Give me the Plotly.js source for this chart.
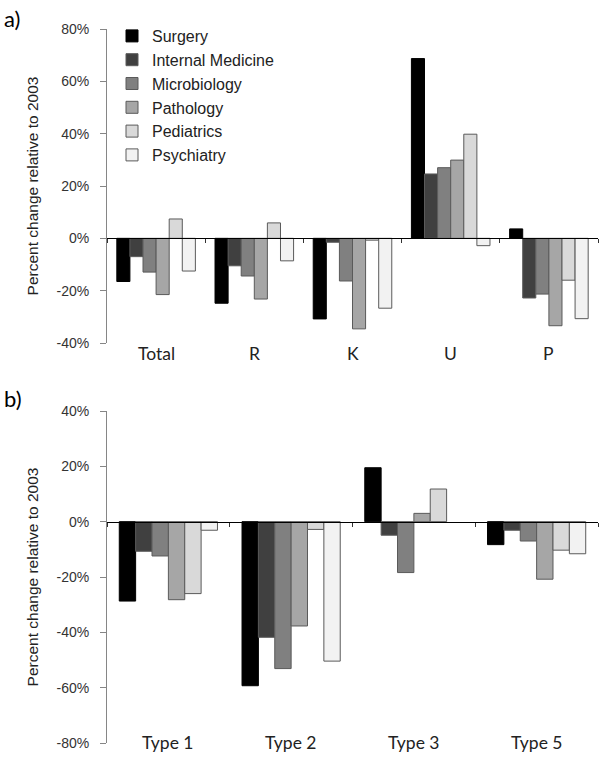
<!DOCTYPE html>
<html><head><meta charset="utf-8">
<script src="https://cdn.plot.ly/plotly-3.0.1.min.js"></script>
<style>body{margin:0;padding:0;background:#fff}#chart{width:604px;height:758px}</style>
</head><body><div id="chart"></div>
<script>
// ---- data (percent change relative to 2003) ----
const seriesNames = ['Surgery','Internal Medicine','Microbiology','Pathology','Pediatrics','Psychiatry'];
const seriesColors = ['#000000','#404040','#808080','#a6a6a6','#d9d9d9','#f2f2f2'];

const categoriesA = ['Total','R','K','U','P'];
const surgeryA    = [-16.5, -24.8, -30.8, 68.7,  3.6];
const internalA   = [ -7.0, -10.5,  -1.5, 24.6, -22.8];
const microA      = [-12.9, -14.4, -16.3, 27.0, -21.3];
const pathologyA  = [-21.5, -23.2, -34.6, 29.9, -33.4];
const pediatricsA = [  7.4,   5.9,  -0.7, 39.8, -16.0];
const psychiatryA = [-12.5,  -8.6, -26.7, -2.8, -30.7];

const categoriesB = ['Type 1','Type 2','Type 3','Type 5'];
const surgeryB    = [-28.7, -59.3, 19.5,  -8.3];
const internalB   = [-10.7, -41.8, -4.9,  -3.1];
const microB      = [-12.4, -53.1, -18.4, -7.0];
const pathologyB  = [-28.2, -37.7,  3.0, -20.8];
const pediatricsB = [-26.0,  -2.8, 11.8, -10.3];
const psychiatryB = [ -3.1, -50.4, null, -11.6];

const yTicksA = [-40,-20,0,20,40,60,80];
const yTicksB = [-80,-60,-40,-20,0,20,40];

// ---- layout constants ----
const W = 604, H = 758;
const xDom = [107/W, 598/W];
const yDomA = [1-343/H, 1-29/H];
const yDomB = [1-743/H, 1-411/H];
const rangeA = [-40, 80], rangeB = [-80, 40];
function zeroPos(dom, rng){ return dom[0] + (0 - rng[0])/(rng[1]-rng[0])*(dom[1]-dom[0]); }

const seriesA = [surgeryA, internalA, microA, pathologyA, pediatricsA, psychiatryA];
const seriesB = [surgeryB, internalB, microB, pathologyB, pediatricsB, psychiatryB];

const traces = [];
seriesNames.forEach((n,i)=>{
  traces.push({type:'bar', name:n, x:categoriesA, y:seriesA[i], xaxis:'x', yaxis:'y',
    legendgroup:'g'+i, showlegend:true,
    marker:{color:seriesColors[i], line:{color: i===0?'#000000':'#5a5a5a', width:1}}, hoverinfo:'skip'});
});
seriesNames.forEach((n,i)=>{
  traces.push({type:'bar', name:n, x:categoriesB, y:seriesB[i], xaxis:'x2', yaxis:'y2',
    legendgroup:'g'+i, showlegend:false,
    marker:{color:seriesColors[i], line:{color: i===0?'#000000':'#5a5a5a', width:1}}, hoverinfo:'skip'});
});

const tickFont = {family:'Liberation Sans, Arial, sans-serif', size:14, color:'#333333'};
const titleFont = {family:'Liberation Sans, Arial, sans-serif', size:15.5, color:'#222222'};
const catFont = {family:'Lato, sans-serif', size:17.5, color:'#222222'};

function yAxis(dom, rng, ticks){
  return {domain:dom, range:rng, tickvals:ticks, ticktext:ticks.map(v=>v+'%'),
    showline:true, linecolor:'#868686', linewidth:1, ticks:'outside', ticklen:6, tickcolor:'#868686',
    ticklabelstandoff:8,
    showgrid:false, zeroline:false, tickfont:tickFont, fixedrange:true,
    title:{text:'Percent change relative to 2003', font:titleFont, standoff:14}};
}
function xAxis(anchorPos){
  return {domain:xDom, anchor:'free', position:anchorPos, type:'category',
    showline:true, linecolor:'#000000', linewidth:1, ticks:'outside', tickson:'boundaries',
    ticklen:4, tickcolor:'#333333', showticklabels:false, showgrid:false, zeroline:false, fixedrange:true};
}

const annotations = [];
categoriesA.forEach(c=>annotations.push({x:c, xref:'x', y:0, yref:'y domain', yanchor:'middle', yshift:-10,
  text:c, showarrow:false, font:catFont}));
categoriesB.forEach(c=>annotations.push({x:c, xref:'x2', y:0, yref:'y2 domain', yanchor:'middle', yshift:1,
  text:c, showarrow:false, font:catFont}));
annotations.push({x:2/W, xref:'paper', y:1-18/H, yref:'paper', xanchor:'left', yanchor:'middle',
  text:'a)', showarrow:false, font:{family:'Lato, sans-serif', size:22, color:'#000'}});
annotations.push({x:2/W, xref:'paper', y:1-398/H, yref:'paper', xanchor:'left', yanchor:'middle',
  text:'b)', showarrow:false, font:{family:'Lato, sans-serif', size:22, color:'#000'}});

const layout = {
  width:W, height:H, margin:{l:0,r:0,t:0,b:0}, paper_bgcolor:'#fff', plot_bgcolor:'rgba(0,0,0,0)',
  barmode:'group', bargap:0.2, bargroupgap:0,
  xaxis: xAxis(zeroPos(yDomA, rangeA)),
  yaxis: yAxis(yDomA, rangeA, yTicksA),
  xaxis2: xAxis(zeroPos(yDomB, rangeB)),
  yaxis2: yAxis(yDomB, rangeB, yTicksB),
  showlegend:true,
  legend:{x:112/W, y:1-19/H, xanchor:'left', yanchor:'top', bgcolor:'rgba(0,0,0,0)',
    font:{family:'Liberation Sans, Arial, sans-serif', size:16, color:'#222'},
    traceorder:'normal', itemwidth:30},
  annotations: annotations
};
Plotly.newPlot('chart', traces, layout, {staticPlot:true, displayModeBar:false});
</script></body></html>
